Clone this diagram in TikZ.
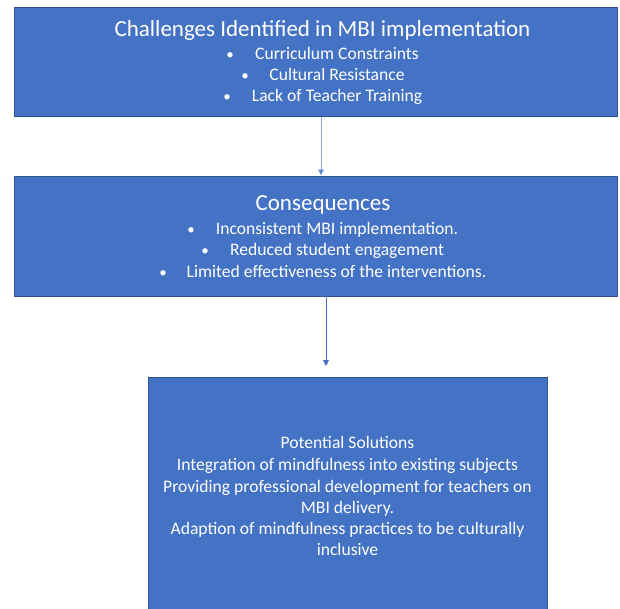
\documentclass[tikz,border=0pt]{standalone}
\usepackage{fontspec}
\setmainfont{Carlito}
\usetikzlibrary{arrows.meta}
\definecolor{boxfill}{HTML}{4472C4}
\definecolor{boxline}{HTML}{2F528F}
\definecolor{arrlight}{HTML}{8FAADC}
\tikzset{
  box/.style={draw=boxline, fill=boxfill, line width=1pt, rectangle, inner sep=0pt, outer sep=0pt},
  title/.style={anchor=base, inner sep=0pt, text=white, font=\fontsize{23}{27}\selectfont},
  body/.style={anchor=base, inner sep=0pt, text=white, font=\fontsize{17.6}{21}\selectfont},
  bul/.style={anchor=base, inner sep=0pt, text=white, font=\fontsize{15}{19}\selectfont},
  arr/.style={line width=0.9pt, -{Triangle[width=6pt,length=6pt]}},
}
\begin{document}
\begin{tikzpicture}[x=1pt, y=-1pt]
\useasboundingbox (0,0) rectangle (620,609);
\path[fill=white] (0,0) rectangle (620,609);
\node[box, minimum width=603pt, minimum height=109pt] (b1) at (315.5,62.5) {};
\node[box, minimum width=603pt, minimum height=119pt] (b2) at (315.5,236.5) {};
\node[box, minimum width=399pt, minimum height=235pt] (b3) at (347.5,494.5) {};
% box 1 text
\node[title] (t1) at (322.5,37) {Challenges Identified in MBI implementation};
\node[bul] (p11) at (230,60) {\textbullet};
\node[body] (l11) at (337,60) {Curriculum Constraints};
\node[bul] (p12) at (245,81) {\textbullet};
\node[body] (l12) at (337,81) {Cultural Resistance};
\node[bul] (p13) at (227,102) {\textbullet};
\node[body] (l13) at (337,102) {Lack of Teacher Training};
% box 2 text
\node[title] (t2) at (323,211) {Consequences};
\node[bul] (p21) at (191,235) {\textbullet};
\node[body] (l21) at (337,235) {Inconsistent MBI implementation.};
\node[bul] (p22) at (205,256) {\textbullet};
\node[body] (l22) at (337,256) {Reduced student engagement};
\node[bul] (p23) at (163,277) {\textbullet};
\node[body] (l23) at (336.5,277) {Limited effectiveness of the interventions.};
% box 3 text
\node[body] (l31) at (347.5,448) {Potential Solutions};
\node[body] (l32) at (347.5,470) {Integration of mindfulness into existing subjects};
\node[body] (l33) at (347.5,492) {Providing professional development for teachers on};
\node[body] (l34) at (347.5,513) {MBI delivery.};
\node[body] (l35) at (347.5,534) {Adaption of mindfulness practices to be culturally};
\node[body] (l36) at (347.5,555) {inclusive};
% arrows
\coordinate (a1) at (321,0);
\coordinate (a2) at (326,0);
\draw[arr, draw=arrlight, -{Triangle[width=6pt,length=6pt,fill=boxfill]}, shorten >=1.5pt] (b1.south -| a1) -- (b2.north -| a1);
\draw[arr, draw=boxfill, fill=boxfill, shorten >=11pt] (b2.south -| a2) -- (b3.north -| a2);
\end{tikzpicture}
\end{document}
